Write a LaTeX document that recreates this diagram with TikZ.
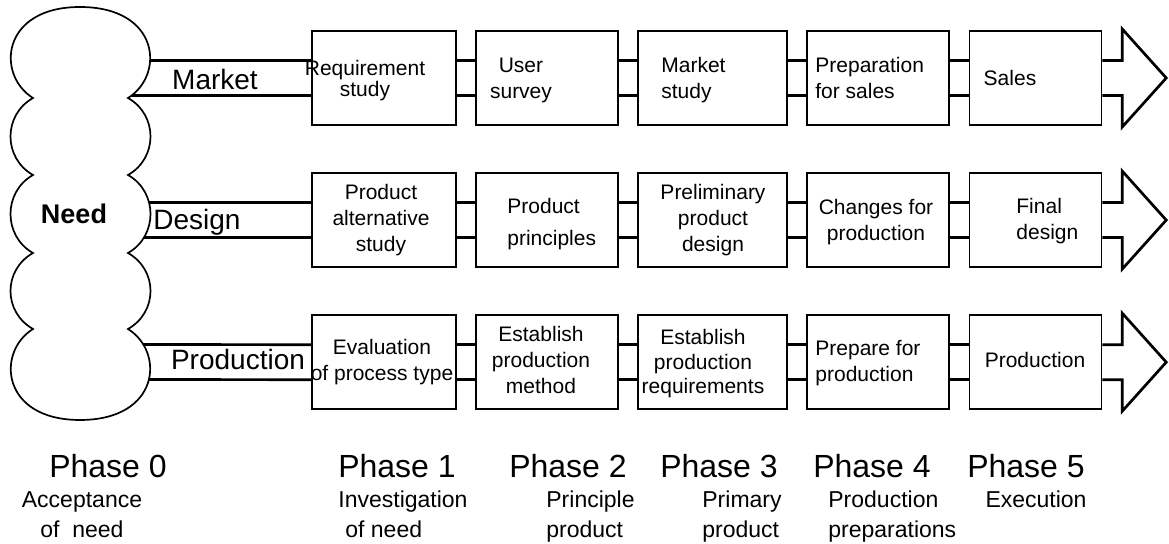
\documentclass[tikz,border=0pt]{standalone}
\usepackage{fontspec}
\setmainfont{Liberation Sans}
\usetikzlibrary{positioning}

\begin{document}
\begin{tikzpicture}[
  x=0.5pt, y=-0.5pt,
  stage/.style={rectangle, draw, line width=0.85pt,
                minimum width=#1, minimum height=47pt, inner sep=0pt},
  stage/.default={71pt},
  link/.style={line width=1.35pt},
  boxtext/.style={font=\fontsize{10.5}{13}\selectfont, align=center,
                  anchor=base, inner sep=0pt},
  boxleft/.style={boxtext, align=left, anchor=base west},
  chan/.style={font=\fontsize{14}{16}\selectfont, anchor=base, inner sep=0pt},
  phase/.style={font=\fontsize{16}{19}\selectfont, anchor=base, inner sep=0pt},
  phasenote/.style={font=\fontsize{11.5}{15}\selectfont, align=center,
                    anchor=base, inner sep=0pt},
  phaseleft/.style={phasenote, align=left, anchor=base west},
  node distance=23.2pt and 9.2pt
]
  \useasboundingbox (0,0) rectangle (1169,544);

  % boxes
  \node[stage=72pt] (m1) at (384,78) {};
  \node[stage=71pt, right=of m1] (m2) {};
  \node[stage=74.5pt, right=of m2] (m3) {};
  \node[stage=71pt, right=of m3] (m4) {};
  \node[stage=66pt, right=of m4] (m5) {};
  \node[stage=72pt, below=of m1] (d1) {};
  \node[stage=71pt, below=of m2] (d2) {};
  \node[stage=74.5pt, below=of m3] (d3) {};
  \node[stage=71pt, below=of m4] (d4) {};
  \node[stage=66pt, below=of m5] (d5) {};
  \node[stage=72pt, below=of d1] (p1) {};
  \node[stage=71pt, below=of d2] (p2) {};
  \node[stage=74.5pt, below=of d3] (p3) {};
  \node[stage=71pt, below=of d4] (p4) {};
  \node[stage=66pt, below=of d5] (p5) {};

  \coordinate (m0) at (120,78);
  \coordinate (d0) at (120,220);
  \coordinate (p0) at (120,362);

  % double lines and end arrows
  \foreach \r in {m,d,p}{
    \foreach \a/\b in {0/1,1/2,2/3,3/4,4/5}{
      \draw[link] ([yshift=8.75pt]\r\a.east) -- ([yshift=8.75pt]\r\b.west);
      \draw[link] ([yshift=-8.75pt]\r\a.east) -- ([yshift=-8.75pt]\r\b.west);
    }
    \draw[link, line join=miter] ([yshift=8.75pt]\r5.east) -- ++(10pt,0)
      -- ++(0,15.75pt) -- ++(22pt,-24.5pt) -- ++(-22pt,-24.5pt)
      -- ++(0,15.75pt) -- ([yshift=-8.75pt]\r5.east);
  }

  % cloud
  \draw[line width=0.85pt, fill=white]
    (80,7) .. controls (160,7) and (165,75) .. (128,98)
    .. controls (158,115) and (158,158) .. (128,175)
    .. controls (158,192) and (158,236) .. (128,253)
    .. controls (158,270) and (158,312) .. (128,329)
    .. controls (165,352) and (160,420) .. (80,420)
    .. controls (1,420) and (-4,352) .. (33,329)
    .. controls (3,312) and (3,270) .. (33,253)
    .. controls (3,236) and (3,192) .. (33,175)
    .. controls (3,158) and (3,115) .. (33,98)
    .. controls (-4,75) and (1,7) .. (80,7) -- cycle;
  \node[font=\fontsize{13.5}{16}\selectfont\bfseries, anchor=base, inner sep=0pt]
    (need) at (74,224) {Need};

  \node[chan] (market) at (215,90) {Market};
  \node[chan] (design) at (197,230) {Design};
  \node[chan] (production) at (238,370) {Production};

  % box texts (placed at the baseline of their last line)
  \node[boxtext, font=\fontsize{10.5}{10.5}\selectfont] (t-m1) at (365,97) {Requirement\\study};
  \node[boxtext] (t-m2) at (521,99) {User\\survey};
  \node[boxleft] (t-m3) at (661,99) {Market\\study};
  \node[boxleft] (t-m4) at (815,99) {Preparation\\for sales};
  \node[boxtext] (t-m5) at (1010,86) {Sales};

  \node[boxtext] (t-d1) at (381,252) {Product\\alternative\\study};
  \node[boxleft, font=\fontsize{10.5}{16}\selectfont] (t-d2) at (507,246) {Product\\principles};
  \node[boxtext] (t-d3) at (713,252) {Preliminary\\product\\design};
  \node[boxtext] (t-d4) at (876,241) {Changes for\\production};
  \node[boxleft] (t-d5) at (1016,240) {Final\\design};

  \node[boxtext] (t-p1) at (382,381) {Evaluation\\of process type};
  \node[boxtext] (t-p2) at (541,394) {Establish\\production\\method};
  \node[boxtext, font=\fontsize{10.5}{12.25}\selectfont] (t-p3) at (703,394) {Establish\\production\\requirements};
  \node[boxleft] (t-p4) at (815,382) {Prepare for\\production};
  \node[boxtext] (t-p5) at (1035,368) {Production};

  % phases
  \foreach \k/\x in {0/108,1/397,2/568,3/719,4/872,5/1026}
    \node[phase] (ph\k) at (\x,478) {Phase \k};

  \node[phasenote] (n0) at (82,538) {Acceptance\\of\ \ need};
  \node[phaseleft] (n1) at (338,538) {Investigation\\\hspace*{3.5pt}of need};
  \node[phaseleft] (n2) at (546,538) {Principle\\product};
  \node[phaseleft] (n3) at (702,538) {Primary\\product};
  \node[phaseleft] (n4) at (828,538) {Production\\preparations};
  \node[phasenote] (n5) at (1036,508) {Execution};
\end{tikzpicture}
\end{document}
